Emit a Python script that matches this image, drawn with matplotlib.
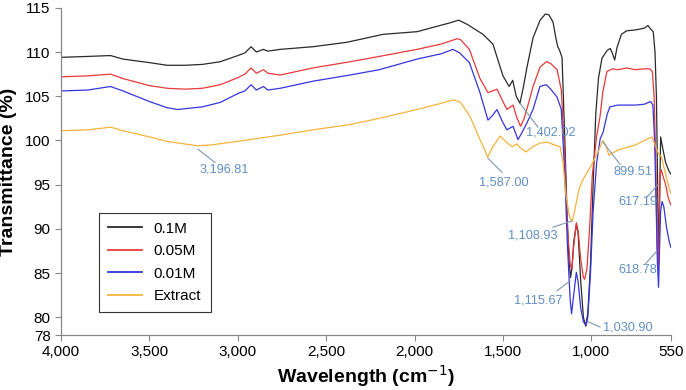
import numpy as np
import matplotlib
matplotlib.use("Agg")
import matplotlib.pyplot as plt
from matplotlib.ticker import FuncFormatter

plt.rcParams['font.family'] = ['Liberation Sans', 'DejaVu Sans']

# FTIR spectra (wavenumber, transmittance %)
x_01 = [4000, 3850, 3720, 3650, 3500, 3400, 3300, 3200, 3100, 3000, 2960, 2925,
        2895, 2855, 2830, 2760, 2575, 2383, 2178, 1986, 1800, 1750, 1700, 1613,
        1557, 1500, 1465, 1445, 1425, 1404, 1385, 1365, 1330, 1290, 1260, 1240,
        1217, 1200, 1190, 1180, 1166, 1150, 1138, 1128, 1118, 1110, 1100, 1085,
        1075, 1060, 1045, 1032, 1020, 1005, 990, 975, 960, 940, 910, 893, 880,
        868, 855, 830, 800, 750, 700, 680, 665, 650, 640, 632, 625, 620, 615,
        608, 600, 580, 560, 550]
y_01 = [109.4, 109.5, 109.6, 109.2, 108.8, 108.5, 108.5, 108.6, 108.9, 109.6,
        109.9, 110.6, 110.0, 110.3, 110.1, 110.3, 110.6, 111.1, 112.0, 112.3,
        113.3, 113.6, 113.1, 112.0, 110.9, 107.3, 106.1, 106.8, 105.0, 104.2,
        106.0, 108.2, 111.6, 113.6, 114.3, 114.2, 113.4, 111.5, 110.6, 110.2,
        109.4, 100.0, 92.0, 87.0, 84.5, 85.5, 88.5, 90.5, 89.5, 84.0, 80.0,
        79.0, 80.5, 86.0, 95.0, 103.0, 107.0, 109.3, 110.2, 110.4, 109.8,
        109.1, 110.5, 112.0, 112.4, 112.5, 112.7, 113.0, 112.6, 112.3, 110.0,
        105.0, 95.0, 86.0, 92.0, 100.4, 99.5, 97.5, 96.5, 96.2]

x_005 = [4000, 3850, 3720, 3650, 3500, 3400, 3300, 3200, 3100, 3000, 2960, 2925,
         2895, 2855, 2830, 2760, 2575, 2365, 2200, 1986, 1850, 1760, 1740, 1690,
         1630, 1585, 1560, 1534, 1505, 1478, 1443, 1420, 1400, 1380, 1350, 1330,
         1290, 1255, 1230, 1194, 1170, 1150, 1135, 1120, 1110, 1100, 1085, 1075,
         1060, 1045, 1038, 1025, 1010, 995, 970, 951, 935, 912, 880, 850, 800,
         750, 700, 670, 655, 645, 635, 628, 622, 616, 612, 605, 595, 580, 565,
         550]
y_005 = [107.2, 107.3, 107.5, 107.0, 106.2, 105.9, 105.8, 105.9, 106.3, 107.1,
         107.5, 108.2, 107.6, 108.0, 107.6, 107.4, 108.2, 108.9, 109.5, 110.3,
         110.9, 111.5, 111.4, 110.3, 107.0, 105.4, 105.6, 105.8, 104.6, 103.5,
         104.0, 102.5, 101.6, 102.5, 104.6, 106.1, 108.3, 108.9, 108.7, 108.0,
         105.7, 98.0, 90.0, 86.0, 85.5, 88.0, 90.7, 89.8, 86.5, 84.5, 84.3,
         85.5, 90.0, 96.0, 100.5, 102.7, 105.5, 107.8, 108.1, 108.0, 108.2,
         108.0, 108.1, 108.1, 107.8, 105.0, 97.0, 88.0, 85.5, 90.0, 96.0, 96.7,
         96.0, 95.0, 93.5, 92.7]

x_001 = [4000, 3850, 3720, 3650, 3500, 3400, 3340, 3200, 3100, 3000, 2960, 2925,
         2895, 2855, 2830, 2760, 2575, 2365, 2200, 1986, 1850, 1783, 1745, 1690,
         1630, 1585, 1560, 1534, 1505, 1478, 1443, 1415, 1395, 1364, 1330, 1291,
         1255, 1230, 1194, 1170, 1150, 1135, 1120, 1112, 1100, 1085, 1075, 1060,
         1045, 1030, 1020, 1005, 990, 970, 950, 934, 910, 895, 850, 800, 750,
         700, 665, 652, 642, 633, 626, 620, 614, 608, 600, 590, 575, 560, 550]
y_001 = [105.6, 105.7, 106.1, 105.6, 104.4, 103.7, 103.5, 103.8, 104.3, 105.3,
         105.6, 106.3, 105.7, 106.1, 105.7, 105.9, 106.7, 107.4, 108.0, 109.2,
         109.8, 110.3, 109.9, 108.8, 105.4, 102.3, 102.8, 103.5, 102.2, 101.2,
         101.6, 100.1, 100.8, 102.0, 103.5, 106.1, 106.3, 105.8, 104.9, 103.5,
         96.0, 88.0, 82.0, 80.4, 82.5, 85.1, 84.0, 81.0, 79.5, 79.1, 80.0,
         85.0, 92.0, 97.5, 100.2, 100.9, 103.0, 103.8, 104.0, 104.0, 104.0,
         104.1, 104.4, 104.0, 100.0, 92.0, 86.0, 83.4, 88.0, 92.0, 93.1, 92.5,
         90.2, 88.6, 87.9]

x_ext = [4000, 3850, 3720, 3700, 3650, 3500, 3400, 3300, 3231, 3150, 3000, 2760,
         2575, 2365, 2200, 1986, 1850, 1780, 1740, 1686, 1630, 1600, 1587, 1560,
         1517, 1480, 1450, 1420, 1404, 1370, 1330, 1291, 1250, 1210, 1177, 1160,
         1145, 1125, 1109, 1095, 1070, 1047, 1000, 960, 935, 920, 900, 880, 838,
         800, 750, 700, 657, 645, 630, 620, 605, 590, 575, 560, 550]
y_ext = [101.1, 101.2, 101.5, 101.4, 101.1, 100.4, 99.9, 99.6, 99.4, 99.5, 99.9,
         100.6, 101.2, 101.8, 102.5, 103.5, 104.2, 104.6, 104.3, 102.7, 100.1,
         98.8, 98.1, 99.2, 100.5, 99.8, 99.3, 99.6, 99.2, 98.7, 99.3, 99.7,
         99.8, 99.5, 99.3, 97.5, 94.0, 91.5, 90.8, 92.0, 94.5, 95.6, 97.2,
         98.8, 100.0, 99.5, 98.3, 98.6, 99.0, 99.2, 99.5, 100.0, 100.4, 99.8,
         99.0, 98.5, 98.2, 97.0, 95.8, 94.6, 94.0]

series = [("0.1M", x_01, y_01, "#2a2a2a"),
          ("0.05M", x_005, y_005, "#e8383a"),
          ("0.01M", x_001, y_001, "#3535e0"),
          ("Extract", x_ext, y_ext, "#f4b43c")]

# peak labels: text, point on curve, end of leader, text position, alignment
peak_labels = [("3,196.81", (3225, 99.0), (3129, 97.5), (3214, 96.7), "left"),
               ("1,402.02", (1404, 104.2), (1302, 101.5), (1370, 100.9), "left"),
               ("1,587.00", (1585, 98.0), (1506, 96.4), (1494, 95.3), "center"),
               ("899.51", (934, 99.8), (838, 97.3), (765, 96.4), "center"),
               ("617.19", (623, 95.0), (686, 93.6), (629, 93.0), "right"),
               ("618.78", (629, 87.5), (697, 86.0), (629, 85.4), "right"),
               ("1,108.93", (1110, 90.9), (1217, 90.2), (1189, 89.2), "right"),
               ("1,115.67", (1121, 84.1), (1195, 83.0), (1161, 81.9), "right"),
               ("1,030.90", (1019, 79.5), (951, 78.9), (934, 78.9), "left")]

xticks = [4000, 3500, 3000, 2500, 2000, 1500, 1000, 550]
yticks = [78, 80, 85, 90, 95, 100, 105, 110, 115]

fig = plt.figure(figsize=(6.86, 3.90), dpi=100)
ax = fig.add_axes([0.089, 0.141, 0.889, 0.839])

for name, xs, ys, col in series:
    ax.plot(xs, ys, color=col, lw=0.9, label=name)

for txt, p0, p1, pt, ha in peak_labels:
    ax.plot([p0[0], p1[0]], [p0[1], p1[1]], color="#8098b0", lw=0.8)
    ax.text(pt[0], pt[1], txt, color="#5f8fc4", fontsize=9.2, ha=ha, va="center")

ax.set_xlim(4000, 550)
ax.set_ylim(78, 115)
ax.set_xticks(xticks)
ax.set_yticks(yticks)
ax.xaxis.set_major_formatter(FuncFormatter(lambda v, p: f"{int(v):,}"))
ax.tick_params(labelsize=11, length=4, color="#888888", width=0.8)

for s in ["top", "right"]:
    ax.spines[s].set_visible(False)
for s in ["left", "bottom"]:
    ax.spines[s].set_color("#888888")
    ax.spines[s].set_linewidth(0.9)

ax.set_xlabel("Wavelength (cm$^{-1}$)", fontsize=14, fontweight="bold", labelpad=3)
ax.set_ylabel("Transmittance (%)", fontsize=14, fontweight="bold")
ax.yaxis.set_label_coords(-0.072, 0.5)

leg = ax.legend(loc="lower left", bbox_to_anchor=(0.062, 0.07), fontsize=11,
                fancybox=False, framealpha=1, edgecolor="#333333",
                handlelength=2.2, handletextpad=0.8, borderpad=0.6,
                labelspacing=0.55, borderaxespad=0)
leg.get_frame().set_linewidth(0.8)
for ln in leg.get_lines():
    ln.set_linewidth(1.3)

fig.savefig("out.png", dpi=100)
